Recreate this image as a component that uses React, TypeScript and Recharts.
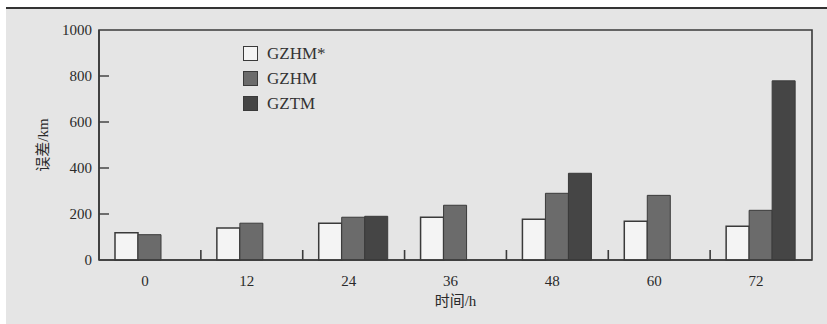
import { BarChart, Bar, XAxis, YAxis, Legend, Label, ReferenceArea } from 'recharts';

const hours = ['0', '12', '24', '36', '48', '60', '72'];
const seriesNames = ['GZHM*', 'GZHM', 'GZTM'];
const gzhmStar = [118, 139, 160, 186, 177, 169, 147];
const gzhm = [110, 160, 186, 238, 290, 281, 216];
const gztm = [null, null, 190, null, 377, null, 779];
const yTicks = [0, 200, 400, 600, 800, 1000];

const data = hours.map((h, i) => ({
  hour: h,
  gzhmStar: gzhmStar[i],
  gzhm: gzhm[i],
  gztm: gztm[i],
}));

const W = 827;
const H = 324;
const MARGIN = { top: 30, right: 15, bottom: 34, left: 59 };
const Y_AXIS_W = 40;
const X_AXIS_H = 30;
const PLOT_W = W - MARGIN.left - Y_AXIS_W - MARGIN.right;
const BAND = PLOT_W / hours.length;

const INK = '#3a3a3a';
const SERIF = "'Liberation Serif', 'Times New Roman', serif";
const CJK = "'Liberation Serif', 'Noto Sans CJK SC', serif";

const XTick = (props: any) => {
  const { x, y, payload, index } = props;
  return (
    <g>
      <text x={x - 5} y={y + 26} textAnchor="middle" fontFamily={SERIF} fontSize={15} fill="#2a2a2a">
        {payload.value}
      </text>
      {index > 0 && (
        <line x1={x - BAND / 2} x2={x - BAND / 2} y1={y} y2={y - 10} stroke={INK} strokeWidth={1.6} />
      )}
    </g>
  );
};

const YTick = (props: any) => {
  const { x, y, payload } = props;
  return (
    <g>
      <text x={x - 7} y={y} dy={5} textAnchor="end" fontFamily={SERIF} fontSize={15} fill="#2a2a2a">
        {payload.value}
      </text>
      {payload.value !== 0 && payload.value !== 1000 && (
        <line x1={x} x2={x + 10} y1={y} y2={y} stroke={INK} strokeWidth={1.4} />
      )}
    </g>
  );
};

const LegendBox = (props: any) => {
  const items = [...(props.payload || [])].sort(
    (a: any, b: any) => seriesNames.indexOf(a.value) - seriesNames.indexOf(b.value)
  );
  return (
    <div style={{ fontFamily: SERIF, fontSize: 17, color: '#333' }}>
      {items.map((p: any) => (
        <div key={p.value} style={{ display: 'flex', alignItems: 'center', height: 25 }}>
          <span
            style={{
              display: 'inline-block',
              width: 13,
              height: 13,
              background: p.payload.fill,
              border: `1.5px solid ${INK}`,
              marginRight: 9,
            }}
          />
          <span>{p.value}</span>
        </div>
      ))}
    </div>
  );
};

export default function App() {
  return (
    <div style={{ position: 'absolute', left: 0, top: 0, width: W, height: H, background: '#fff', overflow: 'hidden' }}>
      <div style={{ position: 'absolute', left: 6, top: 7, right: 0, bottom: 0, background: '#e5e5e5', borderTop: '2px solid #333' }} />
      <div style={{ position: 'absolute', left: 0, top: 0 }}>
        <BarChart width={W} height={H} data={data} margin={MARGIN} barGap={0} barCategoryGap={16}>
          <ReferenceArea y1={0} y2={1000} fill="none" stroke={INK} strokeWidth={1.6} ifOverflow="visible" />
          <XAxis
            dataKey="hour"
            height={X_AXIS_H}
            stroke={INK}
            strokeWidth={1.6}
            tickLine={false}
            tickSize={0}
            tickMargin={0}
            tick={<XTick />}
            interval={0}
          >
            <Label value="时间/h" position="bottom" offset={5} style={{ fontFamily: CJK, fontSize: 15, fill: '#2a2a2a' }} />
          </XAxis>
          <YAxis
            width={Y_AXIS_W}
            domain={[0, 1000]}
            ticks={yTicks}
            stroke={INK}
            strokeWidth={1.6}
            tickLine={false}
            tickSize={0}
            tickMargin={0}
            tick={<YTick />}
            interval={0}
          >
            <Label
              value="误差/km"
              angle={-90}
              position="insideLeft"
              offset={-16}
              style={{ fontFamily: CJK, fontSize: 15, fill: '#2a2a2a', textAnchor: 'middle' }}
            />
          </YAxis>
          <Legend
            layout="vertical"
            align="center"
            verticalAlign="middle"
            content={<LegendBox />}
            wrapperStyle={{ position: 'absolute', left: 243, top: 41, width: 120 }}
          />
          <Bar dataKey="gzhmStar" name="GZHM*" fill="#f4f4f4" stroke={INK} strokeWidth={1.5} isAnimationActive={false} />
          <Bar dataKey="gzhm" name="GZHM" fill="#6b6b6b" stroke={INK} strokeWidth={1} isAnimationActive={false} />
          <Bar dataKey="gztm" name="GZTM" fill="#454545" stroke={INK} strokeWidth={1} isAnimationActive={false} />
        </BarChart>
      </div>
    </div>
  );
}
